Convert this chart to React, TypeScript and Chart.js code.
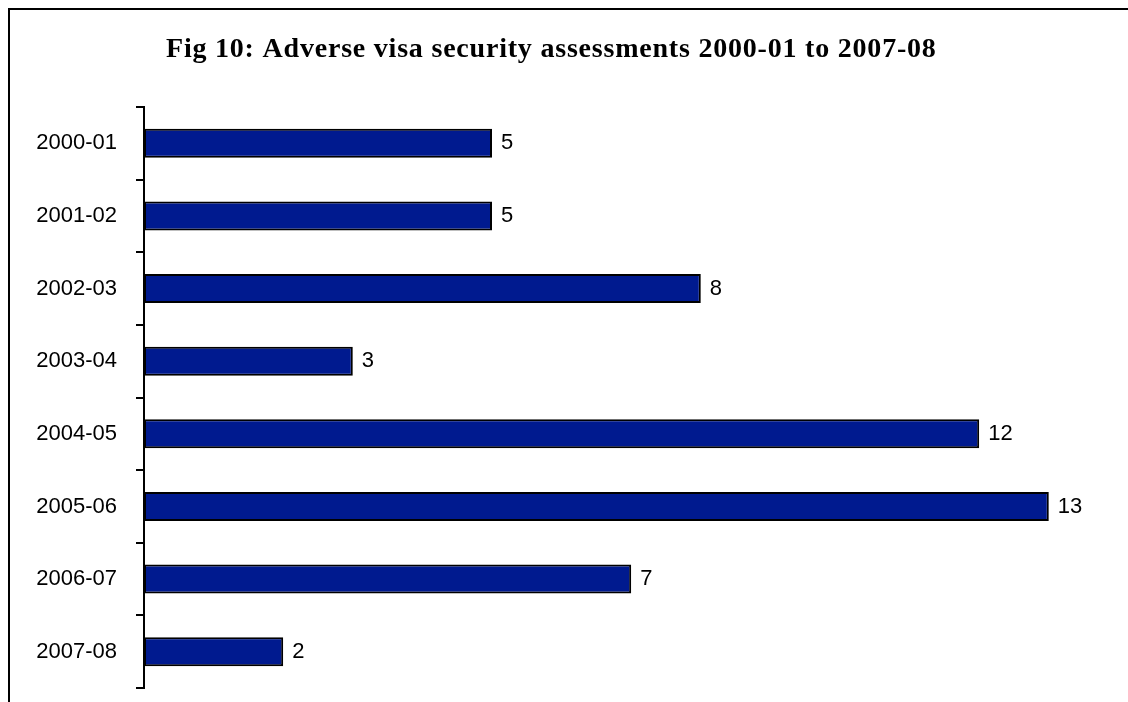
import React, { useEffect, useRef } from "react";
import { Chart, registerables } from "chart.js";

Chart.register(...registerables);

const titleText = "Fig 10: Adverse visa security assessments 2000-01 to 2007-08";
const categories = ["2000-01", "2001-02", "2002-03", "2003-04", "2004-05", "2005-06", "2006-07", "2007-08"];
const values = [5, 5, 8, 3, 12, 13, 7, 2];
const xMax = 14;

const framePlugin = {
  id: "frameAndLabels",
  beforeDraw(chart: any) {
    const ctx = chart.ctx;
    ctx.save();
    ctx.fillStyle = "#ffffff";
    ctx.fillRect(0, 0, chart.width, chart.height);
    ctx.strokeStyle = "#000000";
    ctx.lineWidth = 2;
    ctx.beginPath();
    ctx.moveTo(9, chart.height);
    ctx.lineTo(9, 9);
    ctx.lineTo(chart.width, 9);
    ctx.stroke();
    ctx.fillStyle = "#000000";
    ctx.font = "bold 28px 'Liberation Serif', 'DejaVu Serif', serif";
    ctx.textAlign = "center";
    ctx.textBaseline = "alphabetic";
    const w = ctx.measureText(titleText).width;
    const target = 770;
    const extra = (target - w) / (titleText.length - 1);
    if (extra > 0 && "letterSpacing" in ctx) {
      (ctx as any).letterSpacing = extra.toFixed(2) + "px";
      ctx.textAlign = "left";
      ctx.fillText(titleText, 551 - target / 2, 57);
    } else {
      ctx.fillText(titleText, 551, 57);
    }
    ctx.restore();
  },
  afterDatasetsDraw(chart: any) {
    const ctx = chart.ctx;
    const meta = chart.getDatasetMeta(0);
    ctx.save();
    ctx.fillStyle = "#000000";
    ctx.font = "22px 'Liberation Sans', Arial, sans-serif";
    ctx.textAlign = "left";
    ctx.textBaseline = "middle";
    meta.data.forEach((bar: any, i: number) => {
      ctx.fillText(String(values[i]), bar.x + 9, bar.y);
    });
    ctx.restore();
  },
};

export default function App() {
  const ref = useRef<HTMLCanvasElement>(null);
  useEffect(() => {
    if (!ref.current) return;
    const chart = new Chart(ref.current, {
      type: "bar",
      data: {
        labels: categories,
        datasets: [
          {
            data: values,
            backgroundColor: "#001A8F",
            borderColor: "#000000",
            borderWidth: 2,
            borderSkipped: false,
            barPercentage: 0.4,
            categoryPercentage: 1,
          },
        ],
      },
      options: {
        indexAxis: "y",
        animation: false,
        responsive: false,
        maintainAspectRatio: false,
        layout: { padding: { top: 107, bottom: 14, left: 0, right: 1128 - (144 + 14 * 69.6) } },
        plugins: { legend: { display: false }, tooltip: { enabled: false }, title: { display: false } },
        scales: {
          x: { display: false, min: 0, max: xMax },
          y: {
            afterFit: (scale: any) => {
              scale.width = 144;
              scale.paddingTop = 0;
              scale.paddingBottom = 0;
            },
            border: { display: true, color: "#000000", width: 2 },
            grid: { display: true, offset: true, drawOnChartArea: false, drawTicks: true, tickLength: 8, color: "#000000", lineWidth: 2 },
            ticks: { color: "#000000", padding: 19, font: { family: "'Liberation Sans', Arial, sans-serif", size: 22 } },
          },
        },
      },
      plugins: [framePlugin],
    });
    return () => chart.destroy();
  }, []);
  return (
    <div style={{ position: "fixed", left: 0, top: 0, width: 1128, height: 702, overflow: "hidden", background: "#fff" }}>
      <canvas ref={ref} width={1128} height={702} style={{ display: "block", width: 1128, height: 702 }} />
    </div>
  );
}
